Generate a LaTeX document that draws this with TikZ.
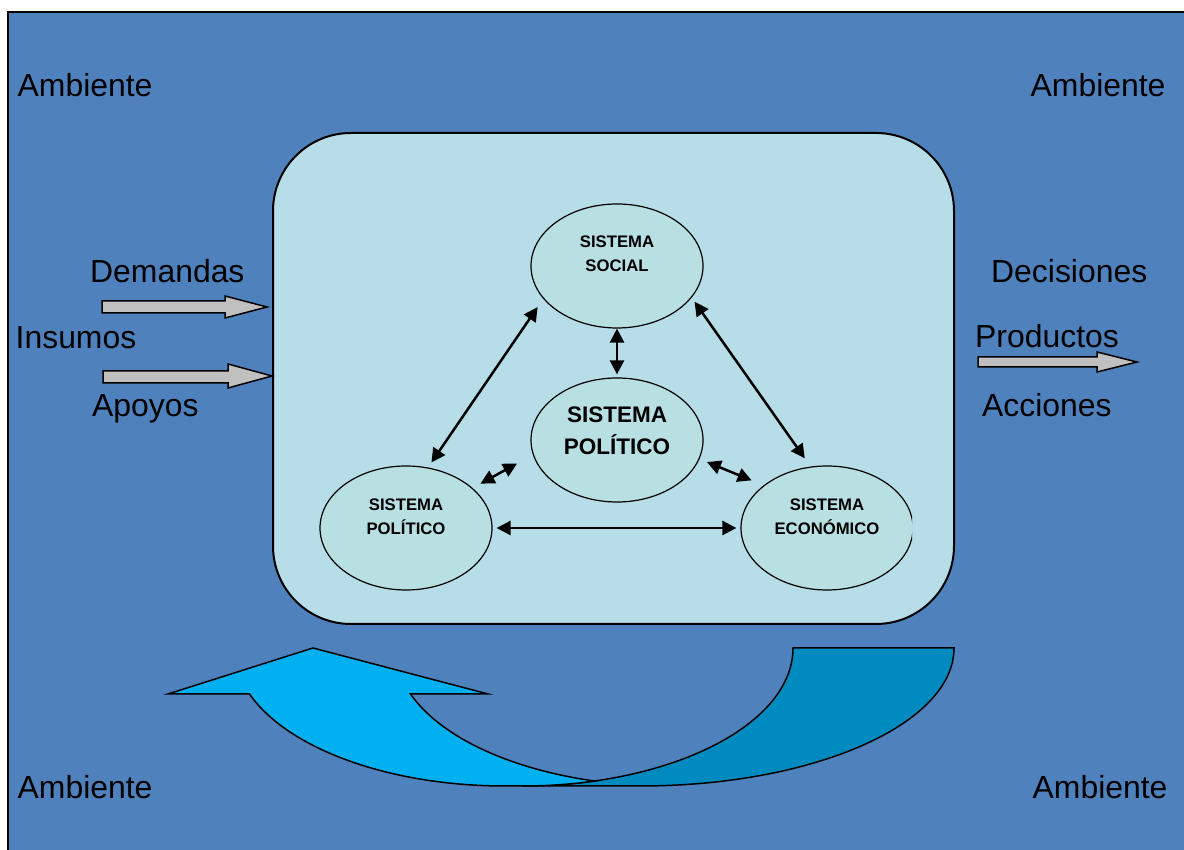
\documentclass[tikz,border=0pt]{standalone}
\usepackage{fontspec}
\setmainfont{Liberation Sans}
\usetikzlibrary{arrows.meta,shapes.geometric}
\definecolor{bgblue}{HTML}{4F81BD}
\definecolor{panel}{HTML}{B7DEE8}
\definecolor{ellfill}{HTML}{B8DFE1}
\definecolor{lightarrow}{HTML}{00B0F0}
\definecolor{darkarrow}{HTML}{008BC0}
\definecolor{blockgray}{HTML}{C0C0C0}
\begin{document}
\begin{tikzpicture}[x=1pt,y=1pt,
  ell/.style={ellipse, draw=black, line width=1.2pt, fill=ellfill,
    minimum width=172pt, minimum height=124pt, inner sep=0pt},
  smalllbl/.style={font=\bfseries\fontsize{16.7}{24}\selectfont, align=center, inner sep=0pt},
  biglbl/.style={font=\bfseries\fontsize{22.5}{32}\selectfont, align=center, inner sep=0pt},
  envlbl/.style={font=\fontsize{31.9}{38}\selectfont, anchor=base west, inner sep=0pt},
  link/.style={line width=2.5pt,
    {Triangle[length=14pt,width=14pt]}-{Triangle[length=14pt,width=14pt]}},
  blockarrow/.style={draw=black, line width=1.5pt, fill=blockgray, line join=miter},
  curved/.style={draw=black, line width=1.5pt, line join=miter}
]
\useasboundingbox (0,0) rectangle (1184,850);
\fill[white] (0,0) rectangle (1184,850);
\fill[bgblue] (8,0) rectangle (1184,838);
\draw[line width=2.5pt] (8,0) -- (8,838) -- (1184,838);

% central panel
\draw[line width=2pt, fill=panel, rounded corners=78pt] (273,226) rectangle (954,717);

% ellipses
\node[ell] (soc) at (617,584) {};
\node[ell] (cen) at (617,410) {};
\node[ell] (pol) at (406,322) {};
\begin{scope}
  \clip (700,240) rectangle (912,400);
  \node[ell] (eco) at (827,322) {};
\end{scope}

\node[smalllbl] (soctxt) at (617,596) {SISTEMA\\SOCIAL};
\node[biglbl] (centxt) at (617,419) {SISTEMA\\POLÍTICO};
\node[smalllbl] (poltxt) at (406,333) {SISTEMA\\POLÍTICO};
\node[smalllbl] (ecotxt) at (827,333) {SISTEMA\\ECONÓMICO};

% connectors
\draw[link, shorten >=3pt] (soc.south) -- (cen.north);
\draw[link, shorten <=6pt, shorten >=10pt] (pol.70) -- (soc.204);
\draw[link, shorten <=5pt, shorten >=10pt] (soc.337.6) -- (eco.105);
\draw[link, shorten <=9pt, shorten >=18pt] (pol.31) -- (cen.190);
\draw[link, shorten <=8pt, shorten >=13pt] (cen.347) -- (eco.146);
\draw[link, shorten <=4pt, shorten >=4pt] (pol.east) -- (eco.west);

% block arrows
\draw[blockarrow] (102,537) -- (225,537) -- (225,532) -- (267,543) -- (225,554) -- (225,549) -- (102,549) -- cycle;
\draw[blockarrow] (103,467) -- (228,467) -- (228,462) -- (272,474) -- (228,486) -- (228,479) -- (103,479) -- cycle;
\draw[blockarrow] (978,483) -- (1097,483) -- (1097,478) -- (1137,488) -- (1097,498) -- (1097,493) -- (978,493) -- cycle;

% environment labels
\node[envlbl] (amb1) at (17.5,753) {Ambiente};
\node[envlbl] (amb2) at (1030.5,753) {Ambiente};
\node[envlbl] (amb3) at (17.5,51) {Ambiente};
\node[envlbl] (amb4) at (1032.5,51) {Ambiente};
\node[envlbl] (dem) at (90,567) {Demandas};
\node[envlbl] (ins) at (15.5,501) {Insumos};
\node[envlbl] (apo) at (92,433) {Apoyos};
\node[envlbl] (dec) at (991,567) {Decisiones};
\node[envlbl] (pro) at (975,502) {Productos};
\node[envlbl] (acc) at (982,433) {Acciones};

% curved feedback arrow
\draw[curved, fill=darkarrow] (793,202) -- (954,202)
  arc[start angle=0, end angle=-90, x radius=314, y radius=138]
  -- (522,64)
  arc[start angle=270, end angle=360, x radius=271, y radius=138]
  -- cycle;
\draw[curved, fill=lightarrow] (410.5,156)
  arc[start angle=199.47, end angle=254.6, x radius=272, y radius=138]
  arc[start angle=285.4, end angle=270, x radius=271, y radius=138]
  -- (505,64)
  arc[start angle=270, end angle=199.47, x radius=271, y radius=138]
  -- (168,156) -- (313,202) -- (488,156) -- cycle;
\end{tikzpicture}
\end{document}
